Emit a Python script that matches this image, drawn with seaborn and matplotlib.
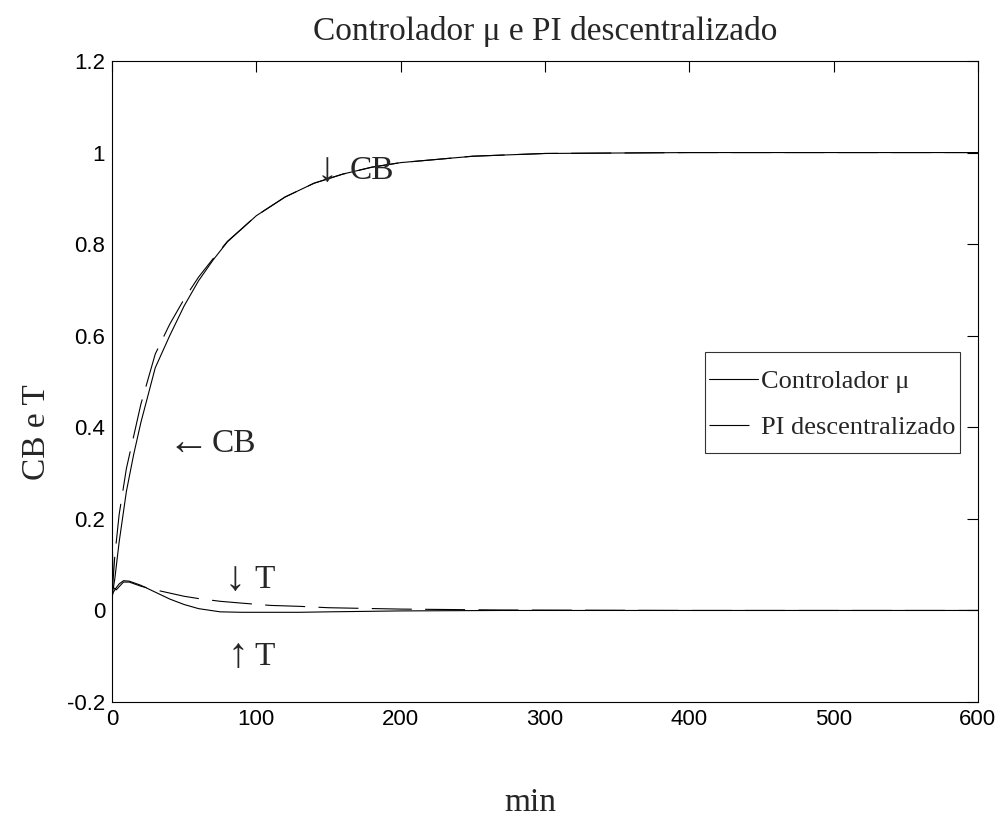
import matplotlib
matplotlib.use("Agg")
import matplotlib.pyplot as plt
import seaborn as sns
import pandas as pd

# tiempos (min) y respuestas
t_cb = [0, 2, 5, 10, 15, 20, 30, 40, 50, 60, 70, 80, 100, 120, 140, 160, 180, 200, 250, 300, 400, 600]
cb_mu = [0.03, 0.07, 0.15, 0.26, 0.34, 0.41, 0.53, 0.60, 0.665, 0.72, 0.765, 0.805, 0.862, 0.903,
         0.933, 0.953, 0.968, 0.978, 0.992, 0.998, 1.0, 1.0]
cb_pi = [0.03, 0.12, 0.21, 0.31, 0.38, 0.45, 0.56, 0.625, 0.68, 0.728, 0.768, 0.806, 0.862, 0.903,
         0.933, 0.953, 0.968, 0.978, 0.992, 0.998, 1.0, 1.0]

t_t = [0, 1, 3, 5, 8, 12, 20, 30, 40, 50, 60, 75, 90, 110, 130, 150, 200, 270, 400, 600]
t_mu = [0.03, 0.04, 0.05, 0.058, 0.065, 0.064, 0.055, 0.04, 0.025, 0.013, 0.004, -0.003, -0.004,
        -0.004, -0.004, -0.003, -0.001, 0.0, 0.0, 0.0]
t_pi = [0.17, 0.05, 0.045, 0.052, 0.062, 0.062, 0.053, 0.045, 0.038, 0.031, 0.026, 0.02, 0.016,
        0.011, 0.009, 0.006, 0.003, 0.001, 0.0, 0.0]

xticks = [0, 100, 200, 300, 400, 500, 600]
yticks = [-0.2, 0, 0.2, 0.4, 0.6, 0.8, 1.0, 1.2]
ytick_labels = ["-0.2", "0", "0.2", "0.4", "0.6", "0.8", "1", "1.2"]

sns.set_style("white")
plt.rcParams["font.family"] = ["Liberation Sans", "DejaVu Sans"]
serif = ["Liberation Serif", "DejaVu Serif"]

fig = plt.figure(figsize=(10.05, 8.24), dpi=100)
ax = fig.add_axes([0.1114, 0.148, 0.8616, 0.778])

df_cb = pd.DataFrame({"t": t_cb, "mu": cb_mu, "pi": cb_pi})
df_t = pd.DataFrame({"t": t_t, "mu": t_mu, "pi": t_pi})

sns.lineplot(data=df_cb, x="t", y="mu", color="black", linewidth=0.8, ax=ax,
             label="Controlador \u03bc")
sns.lineplot(data=df_cb, x="t", y="pi", color="black", linewidth=0.8, ax=ax,
             label="PI descentralizado")
ax.lines[-1].set_dashes((36, 12))
sns.lineplot(data=df_t, x="t", y="mu", color="black", linewidth=0.8, ax=ax)
sns.lineplot(data=df_t, x="t", y="pi", color="black", linewidth=0.8, ax=ax)
ax.lines[-1].set_dashes((36, 12))

ax.set_xlim(0, 600)
ax.set_ylim(-0.2, 1.2)
ax.set_xticks(xticks)
ax.set_yticks(yticks)
ax.set_yticklabels(ytick_labels)
ax.tick_params(direction="in", length=8, width=0.8, top=True, right=True,
               labelsize=16, colors="black", pad=5)
for s in ax.spines.values():
    s.set_color("black")
    s.set_linewidth(0.8)

ax.set_title("Controlador \u03bc e PI descentralizado", family=serif, fontsize=24, pad=15)
ax.set_xlabel("min", family=serif, fontsize=24)
ax.set_ylabel("CB e T", family=serif, fontsize=24)
ax.xaxis.set_label_coords(0.483, -0.133)
ax.yaxis.set_label_coords(-0.069, 0.421)

# anotaciones: flecha + texto
arrows = [("\u2193", 142, 0.96), ("\u2190", 38.2, 0.365), ("\u2193", 78.3, 0.066), ("\u2191", 80.2, -0.102)]
labels = [("CB", 165, 0.96), ("CB", 69.3, 0.365), ("T", 99, 0.066), ("T", 99, -0.102)]
for s, x, y in arrows:
    ax.text(x, y, s, family=serif, fontsize=30, va="center")
for s, x, y in labels:
    ax.text(x, y, s, family=serif, fontsize=24, va="center")

leg = ax.legend(loc="upper right", bbox_to_anchor=(0.979, 0.546), prop={"family": serif, "size": 19},
                frameon=True, fancybox=False, handlelength=1.86, handleheight=2.35, borderpad=0.15,
                labelspacing=0.0, handletextpad=0.11, borderaxespad=0)
leg.get_frame().set_edgecolor("black")
leg.get_frame().set_linewidth(0.8)
# bajar un poco las líneas de la leyenda para alinearlas con el texto
for ln in leg.get_lines():
    ln.set_ydata([v - 5 for v in ln.get_ydata()])
leg.get_lines()[1].set_dashes((36, 12))

fig.savefig("out.png", dpi=100)
